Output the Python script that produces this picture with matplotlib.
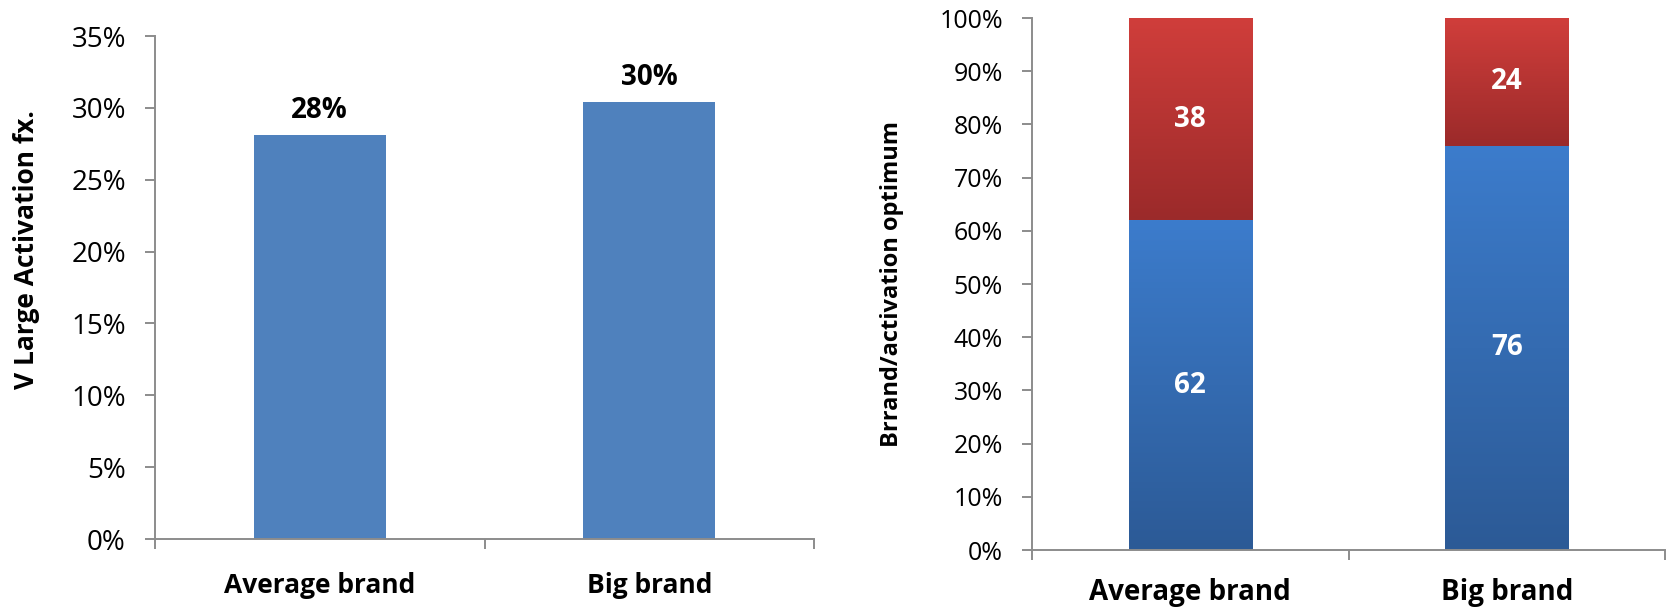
import numpy as np
import matplotlib

matplotlib.use("Agg")
import matplotlib.pyplot as plt
from matplotlib.colors import to_rgb
from matplotlib.ticker import FuncFormatter

categories = ["Average brand", "Big brand"]

# left panel: share of very large activation effects
activation_share = [0.281, 0.304]

# right panel: brand / activation split, in percent
brand_part = [62, 76]
activation_part = [38, 24]

BAR_BLUE = "#4F81BD"
BLUE_TOP, BLUE_BOTTOM = "#3C7CCC", "#2C5A96"
RED_TOP, RED_BOTTOM = "#D03E3B", "#9B2A2A"
AXIS_GREY = "#8C8C8C"

plt.rcParams["font.family"] = ["Open Sans", "DejaVu Sans"]


def style_axes(ax, n_cat, tick_size, xpad):
    for side in ("top", "right"):
        ax.spines[side].set_visible(False)
    for side in ("left", "bottom"):
        ax.spines[side].set_color(AXIS_GREY)
        ax.spines[side].set_linewidth(1.4)
    ax.set_xlim(-0.5, n_cat - 0.5)
    ax.set_xticks(range(n_cat))
    ax.set_xticks(np.arange(-0.5, n_cat, 1.0), minor=True)
    ax.tick_params(axis="x", which="major", length=0, pad=xpad)
    ax.tick_params(axis="x", which="minor", length=7, width=1.4, color=AXIS_GREY)
    ax.tick_params(axis="y", length=7, width=1.4, color=AXIS_GREY,
                   labelsize=tick_size, pad=14)


def gradient_fill(ax, bar, bottom_color, top_color):
    x0, y0 = bar.get_x(), bar.get_y()
    x1, y1 = x0 + bar.get_width(), y0 + bar.get_height()
    lo, hi = np.array(to_rgb(bottom_color)), np.array(to_rgb(top_color))
    t = np.linspace(0, 1, 256)[:, None, None]
    img = lo + (hi - lo) * t
    im = ax.imshow(img, extent=[x0, x1, y0, y1], origin="lower",
                   aspect="auto", interpolation="bilinear", zorder=2)
    im.set_clip_path(bar)


fig = plt.figure(figsize=(16.71, 6.09), dpi=100)
W, H = 1671, 609
ax1 = fig.add_axes([155 / W, 1 - 539 / H, (814 - 155) / W, (539 - 36) / H])
ax2 = fig.add_axes([1032 / W, 1 - 550 / H, (1665 - 1032) / W, (550 - 18) / H])

# left: simple bar chart
x = np.arange(len(categories))
bars = ax1.bar(x, activation_share, width=0.4, color=BAR_BLUE, zorder=2)
for b, v in zip(bars, activation_share):
    ax1.annotate(f"{v:.0%}", (b.get_x() + b.get_width() / 2, v),
                 xytext=(0, 7), textcoords="offset points",
                 ha="center", va="bottom", fontsize=20, fontweight="bold")
style_axes(ax1, len(categories), 20, 24)
ax1.set_ylim(0, 0.35)
ax1.set_yticks(np.arange(0, 0.351, 0.05))
ax1.yaxis.set_major_formatter(FuncFormatter(lambda v, _: f"{v:.0%}"))
ax1.set_xticklabels(categories, fontsize=19, fontweight="bold")
ax1.set_ylabel("V Large Activation fx.", fontsize=19, fontweight="bold")
ax1.yaxis.set_label_coords(-0.175, 0.575)

# right: 100% stacked bars with vertical gradients
low = ax2.bar(x, brand_part, width=0.39, color="none", zorder=2)
high = ax2.bar(x, activation_part, bottom=brand_part, width=0.39, color="none", zorder=2)
for b, v in zip(low, brand_part):
    gradient_fill(ax2, b, BLUE_BOTTOM, BLUE_TOP)
    ax2.text(b.get_x() + b.get_width() / 2, v / 2, f"{v}", ha="center", va="center",
             color="white", fontsize=20, fontweight="bold", zorder=3)
for b, base, v in zip(high, brand_part, activation_part):
    gradient_fill(ax2, b, RED_BOTTOM, RED_TOP)
    ax2.text(b.get_x() + b.get_width() / 2, base + v / 2, f"{v}", ha="center", va="center",
             color="white", fontsize=20, fontweight="bold", zorder=3)
style_axes(ax2, len(categories), 18, 20)
ax2.set_ylim(0, 100)
ax2.set_yticks(np.arange(0, 101, 10))
ax2.set_yticklabels([f"{v}%" for v in range(0, 101, 10)])
ax2.set_xticklabels(categories, fontsize=20, fontweight="bold")
ax2.set_ylabel("Brrand/activation optimum", fontsize=17, fontweight="bold")
ax2.yaxis.set_label_coords(-0.202, 0.5)

fig.savefig("out.png", dpi=100)
